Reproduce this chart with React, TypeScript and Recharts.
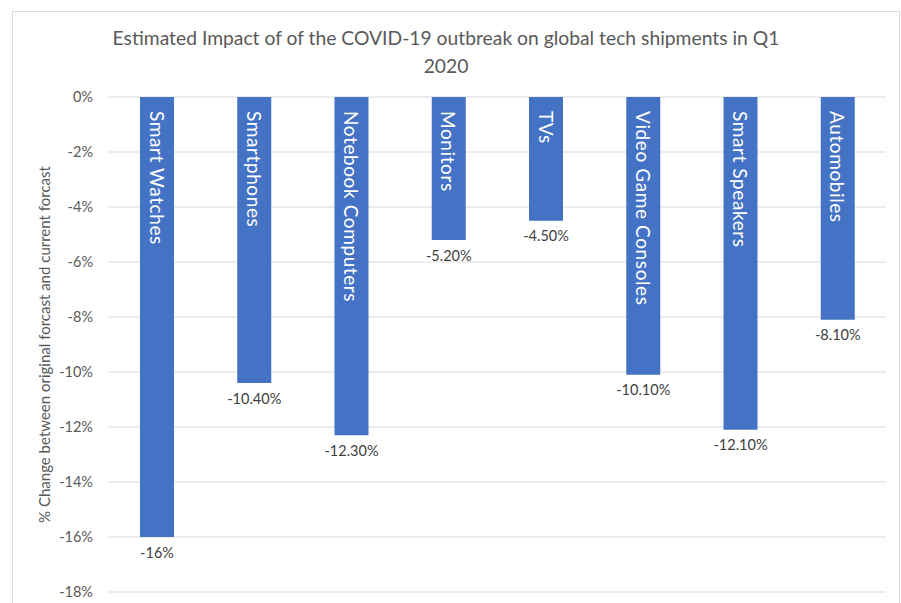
import React from 'react';
import { BarChart, Bar, XAxis, YAxis, CartesianGrid, LabelList } from 'recharts';

const categories = [
  'Smart Watches',
  'Smartphones',
  'Notebook Computers',
  'Monitors',
  'TVs',
  'Video Game Consoles',
  'Smart Speakers',
  'Automobiles',
];
const changes = [-16, -10.4, -12.3, -5.2, -4.5, -10.1, -12.1, -8.1];
const valueLabels = ['-16%', '-10.40%', '-12.30%', '-5.20%', '-4.50%', '-10.10%', '-12.10%', '-8.10%'];
const yTicks = [0, -2, -4, -6, -8, -10, -12, -14, -16, -18];

const data = categories.map((name, i) => ({ name, value: changes[i], label: valueLabels[i] }));

const FONT = 'Lato, "Open Sans", sans-serif';

// category name written down inside the bar
const NameLabel = (props: any) => {
  const { x, y, width, height, value } = props;
  const top = Math.min(y, y + height);
  const cx = x + width / 2;
  const ty = top + 14;
  return (
    <text
      x={cx}
      y={ty}
      transform={`rotate(90, ${cx}, ${ty})`}
      textAnchor="start"
      dominantBaseline="central"
      fill="#ffffff"
      fontSize={19}
      letterSpacing={0.6}
      fontFamily={FONT}
    >
      {value}
    </text>
  );
};

// percentage under the end of the bar
const ValueLabel = (props: any) => {
  const { x, y, width, height, value } = props;
  const bottom = Math.max(y, y + height);
  return (
    <text
      x={x + width / 2}
      y={bottom + 15}
      textAnchor="middle"
      dominantBaseline="central"
      fill="#404040"
      fontSize={14.5}
      fontFamily={FONT}
    >
      {value}
    </text>
  );
};

export default function App() {
  return (
    <div style={{ position: 'absolute', left: 0, top: 0, width: 901, height: 603, background: '#fff', overflow: 'hidden' }}>
      <div
        style={{
          position: 'absolute',
          left: 12,
          top: 11,
          width: 888,
          height: 600,
          border: '1px solid #d9d9d9',
          boxSizing: 'border-box',
        }}
      />
      <div
        style={{
          position: 'absolute',
          left: 0,
          top: 24,
          width: 892,
          textAlign: 'center',
          fontFamily: FONT,
          fontSize: 19.3,
          lineHeight: '28px',
          color: '#595959',
        }}
      >
        Estimated Impact of of the COVID-19 outbreak on global tech shipments in Q1
        <br />
        2020
      </div>
      <div style={{ position: 'absolute', left: 0, top: 0 }}>
        <BarChart
          width={901}
          height={603}
          data={data}
          margin={{ top: 97, right: 15, bottom: 11, left: 0 }}
        >
          <CartesianGrid horizontal vertical={false} stroke="#d9d9d9" />
          <XAxis dataKey="name" hide />
          <YAxis
            width={108}
            domain={[-18, 0]}
            ticks={yTicks}
            interval={0}
            axisLine={false}
            tickLine={false}
            tickMargin={9}
            tickFormatter={(v: number) => `${v}%`}
            tick={{ fill: '#595959', fontSize: 14.5, fontFamily: FONT }}
            label={{
              value: '% Change between original forcast and current forcast',
              angle: -90,
              position: 'center',
              dx: -9,
              style: { fill: '#595959', fontSize: 15, fontFamily: FONT, textAnchor: 'middle' },
            }}
          />
          <Bar dataKey="value" fill="#4472c4" barSize={34} isAnimationActive={false}>
            <LabelList dataKey="name" content={NameLabel} />
            <LabelList dataKey="label" content={ValueLabel} />
          </Bar>
        </BarChart>
      </div>
    </div>
  );
}
